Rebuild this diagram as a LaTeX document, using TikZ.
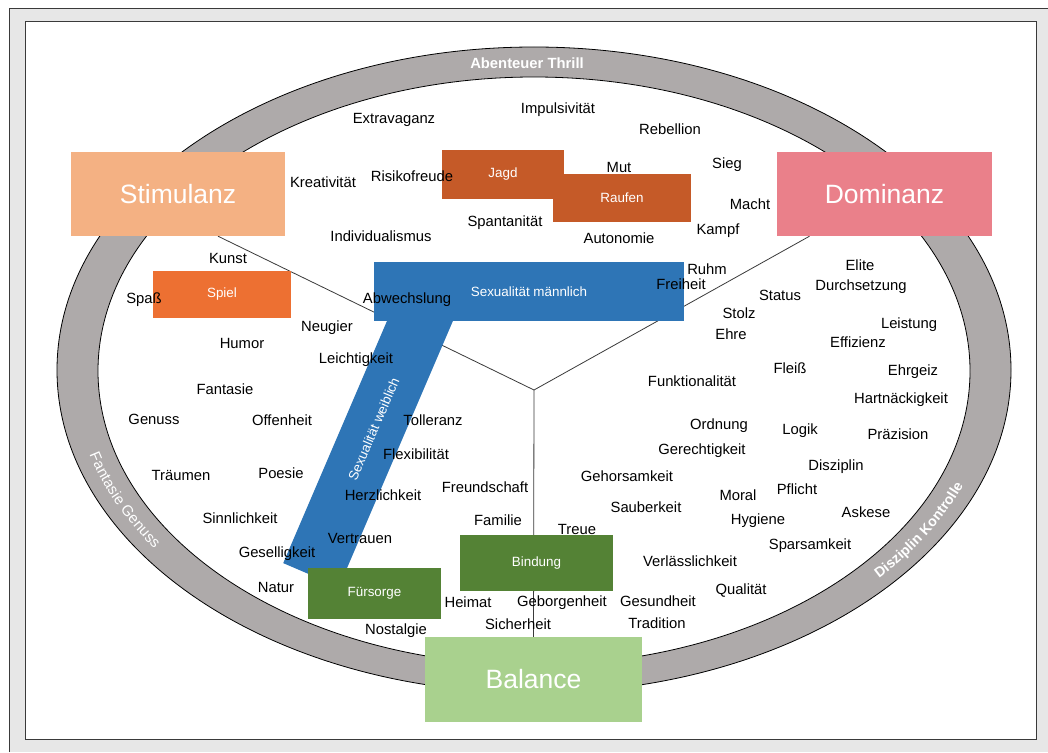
\documentclass[tikz,border=0pt]{standalone}
\usepackage{fontspec}
\setmainfont{Liberation Sans}
\usetikzlibrary{decorations.text}

\definecolor{pagegray}{HTML}{E7E7E7}
\definecolor{framecol}{HTML}{3A3A3A}
\definecolor{ringgray}{HTML}{AEAAAA}
\definecolor{stimcol}{HTML}{F4B183}
\definecolor{domcol}{HTML}{EA808A}
\definecolor{balcol}{HTML}{A9D18E}
\definecolor{rustcol}{HTML}{C55A28}
\definecolor{spielcol}{HTML}{ED7032}
\definecolor{sexcol}{HTML}{2E75B6}
\definecolor{bindcol}{HTML}{548235}

\pgfdeclarelayer{back}
\pgfdeclarelayer{spokes}
\pgfsetlayers{back,spokes,main}

\begin{document}
\begin{tikzpicture}[x=1pt,y=-1pt,
  box/.style={inner sep=0pt, text=white, font=\fontsize{13.4}{15}\selectfont},
  bigbox/.style={box, font=\fontsize{26.5}{30}\selectfont},
  word/.style={inner sep=0pt, text height=10.5pt, text depth=0pt, font=\fontsize{14.8}{17}\selectfont},
  spoke/.style={framecol, line width=0.8pt},
  ringtext/.style={decorate, decoration={text along path, text align=center, text color=white, raise=-5pt}}]
\useasboundingbox (0,0) rectangle (1048,752);

\begin{pgfonlayer}{back}
\fill[white] (0,0) rectangle (1048,752);
\fill[pagegray] (9,8) rectangle (1048,752);
\draw[framecol] (9,752) -- (9,8) -- (1048,8);
\draw[framecol, fill=white] (25,21) rectangle (1036,739);
\draw[line width=0.8pt, fill=ringgray] (534,370) ellipse [x radius=477pt, y radius=323pt];
\draw[line width=0.8pt, fill=white] (534,371) ellipse [x radius=436pt, y radius=294pt];
\end{pgfonlayer}

\node[inner sep=0pt, text=white, font=\fontsize{14.8}{17}\selectfont\bfseries] (abenteuer) at (527,63) {Abenteuer Thrill};
\path[ringtext, decoration={text={|\fontsize{15}{17}\selectfont|Fantasie Genuss}}]
  plot[domain=181.5:131.5, samples=40] ({534+456.5*cos(\x)}, {370.5+308.5*sin(\x)});
\path[ringtext, decoration={text={|\fontsize{14.2}{16}\selectfont\bfseries|Disziplin Kontrolle}}]
  plot[domain=54.8:4.8, samples=40] ({534+456.5*cos(\x)}, {370.5+308.5*sin(\x)});

\node[bigbox, fill=stimcol, minimum width=214pt, minimum height=84pt] (stim) at (178,194) {Stimulanz};
\node[bigbox, fill=domcol, minimum width=215pt, minimum height=84pt] (dom) at (884.5,194) {Dominanz};
\node[bigbox, fill=balcol, minimum width=217pt, minimum height=85pt] (bal) at (533.5,679.5) {Balance};
\node[box, fill=rustcol, minimum width=122pt, minimum height=49pt] (jagd) at (503,174.5) {Jagd};
\node[box, fill=rustcol, minimum width=138pt, minimum height=48pt] (raufen) at (622,198) {Raufen};
\node[box, fill=spielcol, minimum width=138pt, minimum height=47pt] (spiel) at (222,294.5) {Spiel};
\node[box, fill=sexcol, rotate=66.8, minimum width=318pt, minimum height=60.6pt] (weibl) at (373.7,428.9) {Sexualität weiblich};
\node[box, fill=sexcol, minimum width=310pt, minimum height=59pt] (maennl) at (529,291.5) {Sexualität männlich};
\node[box, fill=bindcol, minimum width=133pt, minimum height=51pt] (fuers) at (374.5,593.5) {Fürsorge};
\node[box, fill=bindcol, minimum width=153pt, minimum height=56pt] (bind) at (536.5,563) {Bindung};

\coordinate (hub) at (534,390);
\begin{pgfonlayer}{spokes}
\draw[spoke] ([xshift=40pt]stim.south) -- (hub) -- ([xshift=-75pt]dom.south);
\draw[spoke] (hub) -- (bal.north);
\end{pgfonlayer}

\foreach \w/\x/\y [count=\i] in {Extravaganz/394/118, Impulsivität/558/108, Rebellion/670/129,
  Kreativität/323/182, Risikofreude/412/176, Mut/619/167, Sieg/727/163, Macht/750/204,
  Kampf/718/229, Spantanität/505/221, Individualismus/381/236, Autonomie/619/238,
  Kunst/228/258, Spaß/144/298, Abwechslung/407/298, Ruhm/707/269, Freiheit/681/284,
  Elite/860/265, Durchsetzung/861/285, Status/780/295, Stolz/739/313, Ehre/731/334,
  Leistung/909/323, Effizienz/858/342, Neugier/327/326, Humor/242/343, Leichtigkeit/356/358,
  Fleiß/790/368, Ehrgeiz/913/370, Funktionalität/692/381, Fantasie/225/389,
  Hartnäckigkeit/901/398, Genuss/154/419, Offenheit/282/420, Tolleranz/433/420,
  Ordnung/719/424, Logik/800/429, Präzision/898/434, Gerechtigkeit/702/449,
  Flexibilität/416/454, Disziplin/836/465, Träumen/181/475, Poesie/281/473,
  Gehorsamkeit/627/476, Freundschaft/485/487, Herzlichkeit/383/495, Pflicht/797/489,
  Moral/738/495, Sauberkeit/646/507, Askese/866/512, Sinnlichkeit/240/518, Familie/498/520,
  Hygiene/758/519, Treue/577/529, Vertrauen/360/538, Sparsamkeit/810/544,
  Geselligkeit/277/552, Verlässlichkeit/690/561, Natur/276/587, Qualität/741/589,
  Heimat/468/602, Geborgenheit/562/601, Gesundheit/658/601, Nostalgie/396/629,
  Sicherheit/518/624, Tradition/657/623}
  \node[word] (w\i) at (\x,\y) {\w};
\end{tikzpicture}
\end{document}
